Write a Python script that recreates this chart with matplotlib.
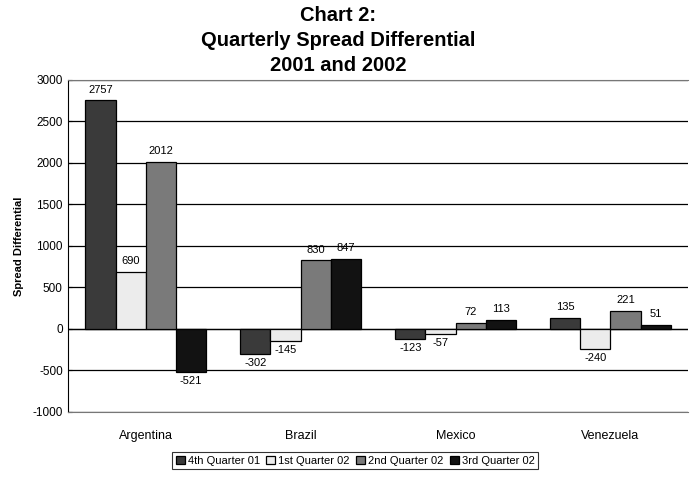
import matplotlib
matplotlib.use("Agg")
import matplotlib.pyplot as plt
import numpy as np

plt.rcParams['font.family'] = ['Liberation Sans', 'DejaVu Sans']

categories = ["Argentina", "Brazil", "Mexico", "Venezuela"]
series_names = ["4th Quarter 01", "1st Quarter 02", "2nd Quarter 02", "3rd Quarter 02"]
q4_01 = [2757, -302, -123, 135]
q1_02 = [690, -145, -57, -240]
q2_02 = [2012, 830, 72, 221]
q3_02 = [-521, 847, 113, 51]
series = [q4_01, q1_02, q2_02, q3_02]
colors = ["#3a3a3a", "#ececec", "#7a7a7a", "#121212"]
yticks = list(range(-1000, 3001, 500))

fig = plt.figure(figsize=(6.9, 4.79), dpi=100)
ax = fig.add_axes([0.099, 0.14, 0.898, 0.693])

x = np.arange(len(categories))
w = 0.195
for i, (vals, c, name) in enumerate(zip(series, colors, series_names)):
    pos = x + (i - 1.5) * w
    bars = ax.bar(pos, vals, width=w, color=c, edgecolor="black", linewidth=0.9,
                  label=name, zorder=3)
    for b, v in zip(bars, vals):
        cx = b.get_x() + b.get_width() / 2
        if v >= 0:
            ax.annotate(str(v), (cx, v), xytext=(0, 4), textcoords="offset points",
                        ha="center", va="bottom", fontsize=8)
        else:
            ax.annotate(str(v), (cx, v), xytext=(0, -3), textcoords="offset points",
                        ha="center", va="top", fontsize=8)

ax.set_xlim(-0.5, len(categories) - 0.5)
ax.set_ylim(-1000, 3000)
ax.set_yticks(yticks)
ax.set_yticklabels([str(t) for t in yticks], fontsize=8.5)
ax.set_xticks(x)
ax.set_xticklabels(categories, fontsize=9)
ax.tick_params(axis="x", length=0, pad=13)
ax.tick_params(axis="y", length=3, direction="in", pad=4)
ax.yaxis.grid(True, color="black", linewidth=0.9, zorder=0)
ax.axhline(0, color="black", linewidth=0.9, zorder=2)
for s in ["top", "bottom", "right"]:
    ax.spines[s].set_color("#777777")
    ax.spines[s].set_linewidth(0.8)
    ax.spines[s].set_linestyle((0, (1, 1)))
ax.spines["right"].set_visible(False)
ax.spines["left"].set_color("black")
ax.set_ylabel("Spread Differential", fontsize=8, fontweight="bold", labelpad=6)

tkw = dict(ha="center", va="center", fontsize=14.5, fontweight="bold")
fig.text(0.49, 0.968, "Chart 2:", **tkw)
fig.text(0.49, 0.915, "Quarterly Spread Differential", **tkw)
fig.text(0.49, 0.864, "2001 and 2002", **tkw)

leg = fig.legend(loc="center", bbox_to_anchor=(0.515, 0.038), ncol=4, fontsize=8,
                 frameon=True, fancybox=False, edgecolor="black", handlelength=0.8,
                 handleheight=0.8, handletextpad=0.3, columnspacing=0.55,
                 borderpad=0.3)
leg.get_frame().set_linewidth(0.8)

fig.savefig("out.png", dpi=100)
